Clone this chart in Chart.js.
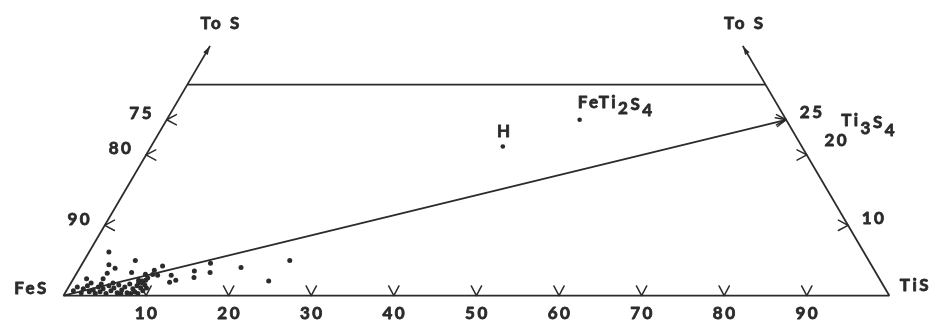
<!DOCTYPE html>
<html>
<head>
<meta charset="utf-8">
<script src="https://cdn.jsdelivr.net/npm/chart.js@4.4.1/dist/chart.umd.min.js"></script>
<style>
  html, body { margin: 0; padding: 0; background: #fff; }
  #wrap { width: 935px; height: 326px; position: relative; }
</style>
</head>
<body>
<div id="wrap"><canvas id="diagram"></canvas></div>
<script>
// analysed compositions: mol % TiS and mol % S (the rest is FeS)
const sampleTiS = [2.4, 3.3, 4.3, 6.2, 6.6, 3.7, 1.6, 3.6, 9.2, 9.9, 9.3, 11.9, 12.5, 11.6, 14.1, 14.5, 15.5, 16.1, 19.5, 23.8, 24.9,
  0.85, 1.05, 1.95, 1.9, 2.2, 2.85, 3.2, 3.7, 3.6, 4.15, 4.3, 5.0, 4.8, 5.4, 5.55, 6.3, 5.95, 6.65, 6.8, 7.5, 7.2, 7.9, 8.35,
  8.2, 8.2, 8.8, 9.25, 9.1, 8.45, 9.5, 8.85, 8.0, 6.8, 2.45, 3.75, 5.1, 8.4, 8.95, 9.95, 8.0, 8.7, 8.85];
const sampleS = [6.2, 4.4, 3.9, 5.0, 3.3, 3.2, 2.4, 2.4, 3.6, 4.2, 3.0, 1.9, 2.2, 2.9, 3.5, 2.6, 4.6, 3.3, 4.0, 2.1, 5.0,
  0.7, 1.25, 0.4, 1.0, 1.4, 0.55, 0.8, 0.3, 1.25, 0.55, 1.0, 0.3, 1.4, 0.7, 1.1, 0.4, 1.5, 0.8, 1.25, 0.4, 1.65, 1.0, 0.55,
  1.4, 1.8, 1.1, 0.7, 1.5, 2.1, 1.1, 0.3, 0.3, 0.3, 1.8, 1.65, 1.8, 3.05, 2.5, 2.9, 2.2, 1.8, 2.2];

// named phases
const phaseTiS = [42.6, 50];
const phaseS = [21.2, 25];

// Ti3S4 on the TiS-S join, end of the tie line from FeS
const ti3s4 = { tis: 75, s: 25 };

// axis ticks
const baseTicks = [10, 20, 30, 40, 50, 60, 70, 80, 90];   // % TiS on the FeS-TiS join
const leftTicks = [10, 20, 25];                            // % S on the FeS-S join
const leftLabels = ['90', '80', '75'];                     // % FeS
const rightTicks = [10, 20, 25];                           // % S on the TiS-S join
const rightLabels = ['10', '20', '25'];

const sCut = 30;     // diagram is cut off at 30 % S
const sArrow = 35.5; // "To S" arrows

const R3 = Math.sqrt(3) / 2;
function toXY(tis, s) {
  return { x: tis + s / 2, y: s * R3 };
}

const INK = '#2b2b2b';
const FONT = '700 17px Lato';

function lineSet(pts) {
  return {
    type: 'scatter',
    data: pts,
    showLine: true,
    borderColor: INK,
    borderWidth: 1.8,
    pointRadius: 0,
    fill: false,
  };
}

const samplePoints = sampleTiS.map((t, i) => toXY(t, sampleS[i]));
const phasePoints = phaseTiS.map((t, i) => toXY(t, phaseS[i]));

const overlay = {
  id: 'overlay',
  afterDatasetsDraw(chart) {
    const ctx = chart.ctx;
    const xs = chart.scales.x, ys = chart.scales.y;
    const px = (tis, s) => {
      const p = toXY(tis, s);
      return [xs.getPixelForValue(p.x), ys.getPixelForValue(p.y)];
    };

    function chevron(x, y, dx, dy, len, ang) {
      const c = Math.cos(ang), sn = Math.sin(ang);
      const bx = -dx, by = -dy;
      ctx.beginPath();
      ctx.moveTo(x + (bx * c - by * sn) * len, y + (bx * sn + by * c) * len);
      ctx.lineTo(x, y);
      ctx.moveTo(x + (bx * c + by * sn) * len, y + (-bx * sn + by * c) * len);
      ctx.lineTo(x, y);
      ctx.stroke();
    }

    function head(x, y, dx, dy, len, half) {
      ctx.beginPath();
      ctx.moveTo(x, y);
      ctx.lineTo(x - dx * len - dy * half, y - dy * len + dx * half);
      ctx.lineTo(x - dx * len + dy * half, y - dy * len - dx * half);
      ctx.closePath();
      ctx.fill();
    }

    // heavy text: fill plus a thin outline
    function txt(t, x, y) {
      ctx.fillText(t, x, y);
      ctx.strokeText(t, x, y);
    }

    function rich(parts, x, y) {
      ctx.textAlign = 'left';
      ctx.textBaseline = 'alphabetic';
      parts.forEach(([t, dy]) => {
        txt(t, x, y + dy);
        x += ctx.measureText(t).width;
      });
    }

    ctx.save();
    ctx.strokeStyle = INK;
    ctx.fillStyle = INK;
    ctx.lineWidth = 1.5;
    ctx.lineCap = 'round';

    // tick chevrons
    const ang = 28 * Math.PI / 180;
    baseTicks.forEach((t) => {
      const [x, y] = px(t, 0);
      chevron(x, y, 0, 1, 11, ang);
    });
    leftTicks.forEach((s) => {
      const [x, y] = px(0, s);
      chevron(x, y, -1, 0, 11, ang);
    });
    rightTicks.forEach((s) => {
      const [x, y] = px(100 - s, s);
      chevron(x, y, 1, 0, 11, ang);
    });

    // arrow heads
    const [fx, fy] = px(0, 0);
    const [tx, ty] = px(ti3s4.tis, ti3s4.s);
    let d = Math.hypot(tx - fx, ty - fy);
    chevron(tx, ty, (tx - fx) / d, (ty - fy) / d, 11, 24 * Math.PI / 180);

    const [lax, lay] = px(0, sArrow);
    d = Math.hypot(lax - fx, lay - fy);
    head(lax, lay, (lax - fx) / d, (lay - fy) / d, 9, 2.6);
    const [rbx, rby] = px(100, 0);
    const [rax, ray] = px(100 - sArrow, sArrow);
    d = Math.hypot(rax - rbx, ray - rby);
    head(rax, ray, (rax - rbx) / d, (ray - rby) / d, 9, 2.6);

    // labels
    ctx.font = FONT;
    ctx.letterSpacing = '2.5px';
    ctx.lineWidth = 0.8;
    ctx.lineJoin = 'round';
    ctx.textAlign = 'center';
    ctx.textBaseline = 'middle';
    baseTicks.forEach((t) => {
      const [x, y] = px(t, 0);
      txt(String(t), x + 1, y + 18);
    });
    leftTicks.forEach((s, i) => {
      const [x, y] = px(0, s);
      txt(leftLabels[i], x - 25, y - 6);
    });
    rightTicks.forEach((s, i) => {
      const [x, y] = px(100 - s, s);
      const up = s === 20 ? 14 : 7;
      const right = s === 20 ? 30 : 26;
      txt(rightLabels[i], x + right, y - up);
    });

    txt('FeS', fx - 32, fy - 7);
    txt('TiS', rbx + 26, rby - 10);
    txt('To S', lax + 11, lay - 22);
    txt('To S', rax + 2, ray - 22);

    const [hx, hy] = px(phaseTiS[0], phaseS[0]);
    txt('H', hx + 2, hy - 15);

    const [gx, gy] = px(phaseTiS[1], phaseS[1]);
    rich([['FeTi', 0], ['2', 6], ['S', 2], ['4', 8]], gx - 2, gy - 12);
    rich([['Ti', 0], ['3', 8], ['S', 2], ['4', 10]], tx + 55, ty + 6);

    ctx.restore();
  }
};

new Chart(document.getElementById('diagram'), {
  type: 'scatter',
  data: {
    datasets: [
      lineSet([toXY(0, 0), toXY(100, 0)]),
      lineSet([toXY(0, 0), toXY(0, sArrow)]),
      lineSet([toXY(100, 0), toXY(100 - sArrow, sArrow)]),
      lineSet([toXY(0, sCut), toXY(100 - sCut, sCut)]),
      lineSet([toXY(0, 0), toXY(ti3s4.tis, ti3s4.s)]),
      {
        data: samplePoints,
        pointRadius: 2.5,
        pointBackgroundColor: INK,
        pointBorderWidth: 0,
      },
      {
        data: phasePoints,
        pointRadius: 2.3,
        pointBackgroundColor: INK,
        pointBorderWidth: 0,
      },
    ],
  },
  options: {
    responsive: true,
    maintainAspectRatio: false,
    animation: false,
    layout: { padding: 0 },
    plugins: { legend: { display: false }, tooltip: { enabled: false } },
    scales: {
      x: { type: 'linear', display: false, min: -7.2, max: 105.04 },
      y: { type: 'linear', display: false, min: -3.24, max: 35.9 },
    },
  },
  plugins: [overlay],
});
</script>
</body>
</html>
